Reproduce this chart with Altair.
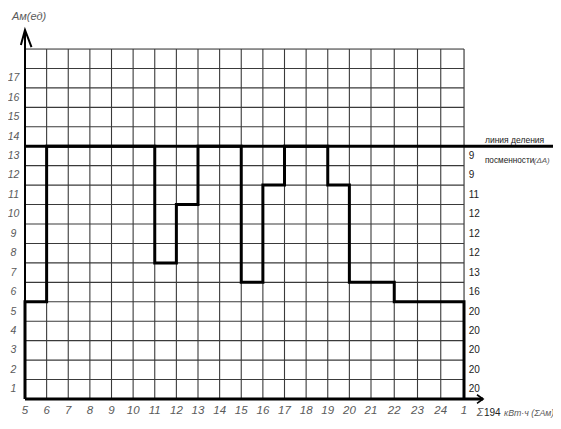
import altair as alt
import pandas as pd

# ---- data ----
hour_labels = ["5", "6", "7", "8", "9", "10", "11", "12", "13", "14", "15",
               "16", "17", "18", "19", "20", "21", "22", "23", "24", "1"]
loads = [5, 13, 13, 13, 13, 13, 7, 10, 13, 13, 6, 11, 13, 13, 11, 6, 6, 5, 5, 5]
y_labels = [str(k) for k in range(1, 18)]
row_hours = [20, 20, 20, 20, 20, 16, 13, 12, 12, 12, 11, 9, 9]  # rows 1..13
total_label = "194"
division_level = 13
y_max = 18

ITALIC_FONT = "Liberation Sans, Arial, DejaVu Sans"
PLAIN_FONT = "Liberation Sans, Arial, DejaVu Sans"
GRAY = "#5a5a5a"

n = len(loads)
xs = alt.Scale(domain=[0, 16, n], range=[0, 346, 439], nice=False, zero=False)
ys = alt.Scale(domain=[0, y_max], nice=False, zero=False)

# ---- grid ----
vgrid = pd.DataFrame({"x": list(range(n + 1)), "y0": 0, "y1": y_max})
hgrid = pd.DataFrame({"y": list(range(y_max + 1)), "x0": 0, "x1": n})

grid_v = alt.Chart(vgrid).mark_rule(stroke="#3a3a3a", strokeWidth=1.1).encode(
    x=alt.X("x:Q", scale=xs, axis=None),
    y=alt.Y("y0:Q", scale=ys, axis=None),
    y2="y1:Q",
)
grid_h = alt.Chart(hgrid).mark_rule(stroke="#3a3a3a", strokeWidth=1.1).encode(
    y=alt.Y("y:Q", scale=ys, axis=None),
    x=alt.X("x0:Q", scale=xs, axis=None),
    x2="x1:Q",
)

# ---- axes, arrows, division line ----
axis_rows = [
    ("xaxis", 0, 0, 0), ("xaxis", 1, n + 0.82, 0),
    ("xarrow", 0, n + 0.56, 0.22), ("xarrow", 1, n + 0.82, 0), ("xarrow", 2, n + 0.56, -0.22),
    ("yaxis", 0, 0, 0), ("yaxis", 1, 0, y_max + 0.98),
    ("yarrow", 0, -0.19, y_max + 0.2), ("yarrow", 1, 0, y_max + 0.98), ("yarrow", 2, 0.3, y_max + 0.1),
    ("division", 0, 0, division_level), ("division", 1, n + 3.85, division_level),
]
axes_df = pd.DataFrame(axis_rows, columns=["g", "o", "x", "y"])
axes_df["w"] = axes_df["g"].map({"xaxis": 3, "xarrow": 1.6, "yaxis": 2,
                                 "yarrow": 2, "division": 3})

axes = alt.Chart(axes_df).mark_line(color="black").encode(
    x=alt.X("x:Q", scale=xs, axis=None),
    y=alt.Y("y:Q", scale=ys, axis=None),
    detail="g:N",
    order="o:Q",
    strokeWidth=alt.StrokeWidth("w:Q", scale=None, legend=None),
)

# ---- load step line ----
pts_x = [0] + list(range(n)) + [n, n]
pts_y = [0] + loads + [loads[-1], 0]
step_df = pd.DataFrame({"x": pts_x, "y": pts_y, "o": list(range(len(pts_x)))})
step = alt.Chart(step_df).mark_line(color="black", strokeWidth=3,
                                    interpolate="step-after").encode(
    x=alt.X("x:Q", scale=xs, axis=None),
    y=alt.Y("y:Q", scale=ys, axis=None),
    order="o:Q",
)

# ---- tick labels ----
xlab_df = pd.DataFrame({"x": list(range(n + 1)), "y": -0.6, "t": hour_labels})
xlab = alt.Chart(xlab_df).mark_text(font=ITALIC_FONT, fontStyle="italic", fontSize=11.5,
                                    color=GRAY, baseline="middle").encode(
    x=alt.X("x:Q", scale=xs, axis=None),
    y=alt.Y("y:Q", scale=ys, axis=None),
    text="t:N",
)

ylab_df = pd.DataFrame({"x": -0.53, "y": [int(v) - 0.5 for v in y_labels], "t": y_labels})
ylab = alt.Chart(ylab_df).mark_text(font=ITALIC_FONT, fontStyle="italic", fontSize=10.5,
                                    color=GRAY, baseline="middle").encode(
    x=alt.X("x:Q", scale=xs, axis=None),
    y=alt.Y("y:Q", scale=ys, axis=None),
    text="t:N",
)

rows_df = pd.DataFrame({"x": n + 0.2, "y": [k + 0.5 for k in range(len(row_hours))],
                        "t": [str(v) for v in row_hours]})
rows = alt.Chart(rows_df).mark_text(font=PLAIN_FONT, fontSize=10, color="#222222",
                                    baseline="middle", align="left").encode(
    x=alt.X("x:Q", scale=xs, axis=None),
    y=alt.Y("y:Q", scale=ys, axis=None),
    text="t:N",
)

# ---- annotations ----
ann_rows = [
    # text, x, y, italic, size, color, align
    ("Aм(ед)", 0.19, y_max + 1.65, True, 11, GRAY, "center"),
    ("линия деления", n + 0.9, division_level + 0.33, False, 8.5, "#222222", "left"),
    ("посменности", n + 0.9, division_level - 0.76, False, 8.2, "#222222", "left"),
    ("(ΔA)", n + 3.0, division_level - 0.76, True, 8, GRAY, "left"),
    ("Σ", n + 0.55, -0.72, True, 11, GRAY, "left"),
    (total_label, n + 0.86, -0.72, False, 10, "#222222", "left"),
    ("кВт·ч (ΣАм)", n + 1.72, -0.72, True, 8.8, GRAY, "left"),
]
layers_ann = []
for t, x, y, it, sz, col, al in ann_rows:
    d = pd.DataFrame({"x": [x], "y": [y], "t": [t]})
    kw = dict(font=ITALIC_FONT if it else PLAIN_FONT, fontSize=sz, color=col,
              baseline="middle", align=al)
    if it:
        kw["fontStyle"] = "italic"
    layers_ann.append(alt.Chart(d).mark_text(**kw).encode(
        x=alt.X("x:Q", scale=xs, axis=None),
        y=alt.Y("y:Q", scale=ys, axis=None),
        text="t:N",
    ))

chart = alt.layer(grid_v, grid_h, step, axes, xlab, ylab, rows, *layers_ann).properties(
    width=439, height=350,
    autosize=alt.AutoSizeParams(type="none"),
    padding={"left": 17, "top": 41, "right": 89, "bottom": 22},
).configure_view(stroke=None).configure(background="white")

chart.save("out.html", embed_options={"renderer": "svg", "actions": False})
